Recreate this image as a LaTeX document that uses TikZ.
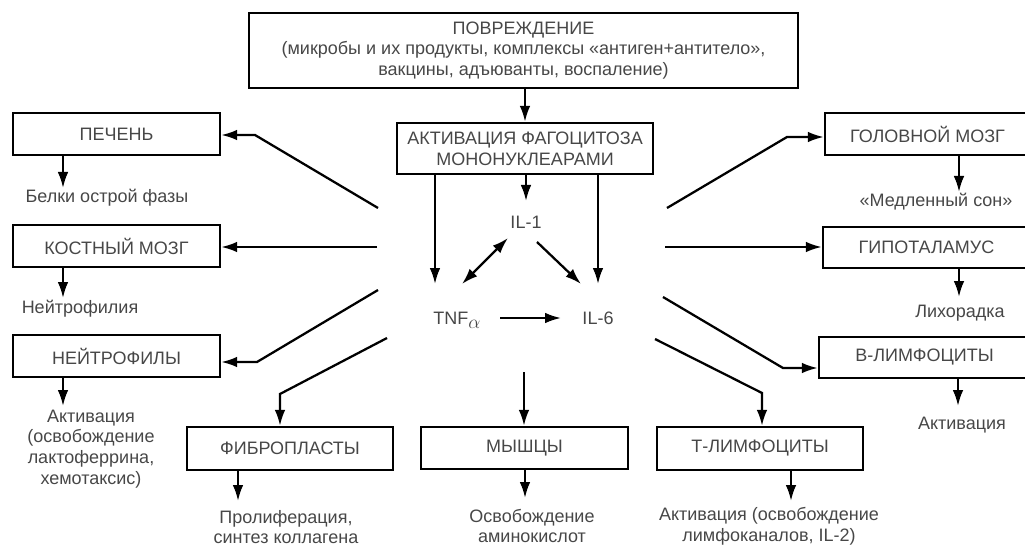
\documentclass[tikz,border=0pt]{standalone}
\usepackage{fontspec}
\setmainfont{Liberation Sans}
\usetikzlibrary{arrows.meta}
\begin{document}
\begin{tikzpicture}[x=0.75pt,y=-0.75pt,
  every node/.style={font=\fontsize{13.5}{15.5}\selectfont, text=black!72},
  box/.style={draw=black, line width=1.8pt, inner sep=0pt, align=center},
  wh/.style 2 args={minimum width=#1*0.75pt, minimum height=#2*0.75pt},
  lbl/.style={align=center, inner sep=1pt},
  arr/.style={line width=1.7pt, -{Latex[length=12pt,width=8pt]}},
  darr/.style={line width=1.7pt, {Latex[length=12pt,width=8pt]}-{Latex[length=12pt,width=8pt]}},
]
\useasboundingbox (0,0) rectangle (1025,549);
\clip (0,0) rectangle (1025,549);

% boxes
\node[box, wh={549}{75}] (povr) at (523.5,50.5) {ПОВРЕЖДЕНИЕ\\(микробы и их продукты, комплексы «антиген+антитело»,\\вакцины, адъюванты, воспаление)};
\node[box, wh={256}{51}] (act) at (525,148.5) {АКТИВАЦИЯ ФАГОЦИТОЗА\\МОНОНУКЛЕАРАМИ};
\node[box, wh={207}{42}] (pech) at (116.5,134) {ПЕЧЕНЬ};
\node[box, wh={207}{42}] (kost) at (116.5,246) {КОСТНЫЙ МОЗГ};
\node[box, wh={207}{42}] (neut) at (116.5,356) {НЕЙТРОФИЛЫ};
\node[box, wh={206}{43}] (fibro) at (290,448.5) {ФИБРОПЛАСТЫ};
\node[box, wh={207}{42}] (mysh) at (524.5,448) {МЫШЦЫ};
\node[box, wh={206}{43}] (tlym) at (760,448.5) {Т-ЛИМФОЦИТЫ};
\node[box, wh={205}{42}] (golov) at (927.5,134) {ГОЛОВНОЙ МОЗГ};
\node[box, wh={207}{41}] (gipo) at (926.5,247.5) {ГИПОТАЛАМУС};
\node[box, wh={211}{41}] (blym) at (924.5,357.5) {В-ЛИМФОЦИТЫ};

% cytokines
\node[lbl] (il1) at (526,222) {IL-1};
\node[lbl] (tnf) at (457,320) {TNF\raisebox{-3pt}{$\alpha$}};
\node[lbl] (il6) at (598,318) {IL-6};

% outcome labels
\node[lbl] (belk) at (107,198) {Белки острой фазы};
\node[lbl] (nfil) at (80,309) {Нейтрофилия};
\node[lbl] (aktN) at (91,449) {Активация\\(освобождение\\лактоферрина,\\хемотаксис)};
\node[lbl] (prolif) at (286,527) {Пролиферация,\\синтез коллагена};
\node[lbl] (osvob) at (532,526) {Освобождение\\аминокислот};
\node[lbl] (aktT) at (769,526) {Активация (освобождение\\лимфоканалов, IL-2)};
\node[lbl] (sleep) at (936,202) {«Медленный сон»};
\node[lbl] (lihor) at (960,313) {Лихорадка};
\node[lbl] (aktB) at (962,425) {Активация};

% coordinates
\coordinate (il1in) at (526,201);
\coordinate (tnfin) at (435,284);
\coordinate (il6in) at (598,284);
\coordinate (d1) at (508,238);
\coordinate (d2) at (462,284);
\coordinate (e1) at (537,242);
\coordinate (e2) at (581,284);
\coordinate (t1) at (500,318);
\coordinate (t2) at (561,318);

\coordinate (cL1) at (378,208); \coordinate (bL1) at (255,135);
\coordinate (cL2) at (377,247);
\coordinate (cL3) at (378,290); \coordinate (bL3) at (257,362);
\coordinate (cF) at (387,338);  \coordinate (bF) at (280,394);
\coordinate (cM) at (524,372);
\coordinate (cT) at (655,339);  \coordinate (bT) at (762,393);
\coordinate (cB) at (663,297);  \coordinate (bB) at (783,368);
\coordinate (cH) at (665,247);
\coordinate (cG) at (667,208);  \coordinate (bG) at (787,137);

\coordinate (pe) at (63,188);
\coordinate (ke) at (63,298);
\coordinate (ne) at (63,406);
\coordinate (fe) at (238,501);
\coordinate (me) at (525,498);
\coordinate (te) at (791,501);
\coordinate (ge) at (959,192);
\coordinate (hie) at (959,297);
\coordinate (be) at (958,406);

% central connectors
\draw[arr] (povr.south -| act.north) -- (act.north);
\draw[arr] (act.south -| il1in) -- (il1in);
\draw[arr] (act.south -| tnfin) -- (tnfin);
\draw[arr] (act.south -| il6in) -- (il6in);
\draw[darr] (d1) -- (d2);
\draw[arr] (e1) -- (e2);
\draw[arr] (t1) -- (t2);

% left connectors
\draw[arr] (cL1) -- (bL1) -- (bL1 -| pech.east);
\draw[arr] (cL2) -- (cL2 -| kost.east);
\draw[arr] (cL3) -- (bL3) -- (bL3 -| neut.east);
\draw[arr] (cF) -- (bF) -- (bF |- fibro.north);
\draw[arr] (cM) -- (cM |- mysh.north);
% right connectors
\draw[arr] (cT) -- (bT) -- (bT |- tlym.north);
\draw[arr] (cB) -- (bB) -- (bB -| blym.west);
\draw[arr] (cH) -- (cH -| gipo.west);
\draw[arr] (cG) -- (bG) -- (bG -| golov.west);

% outcome arrows
\draw[arr] (pech.south -| pe) -- (pe);
\draw[arr] (kost.south -| ke) -- (ke);
\draw[arr] (neut.south -| ne) -- (ne);
\draw[arr] (fibro.south -| fe) -- (fe);
\draw[arr] (mysh.south -| me) -- (me);
\draw[arr] (tlym.south -| te) -- (te);
\draw[arr] (golov.south -| ge) -- (ge);
\draw[arr] (gipo.south -| hie) -- (hie);
\draw[arr] (blym.south -| be) -- (be);
\end{tikzpicture}
\end{document}
